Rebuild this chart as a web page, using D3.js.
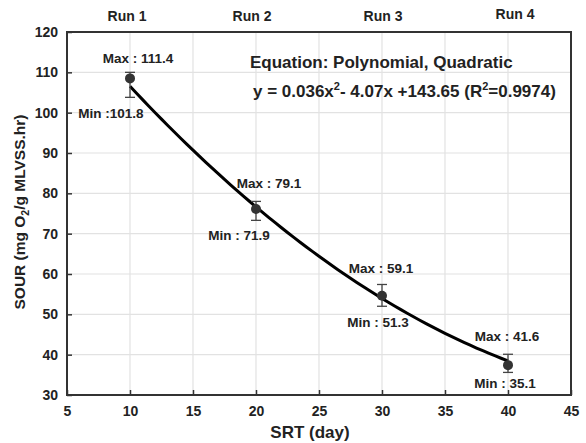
<!DOCTYPE html>
<html>
<head>
<meta charset="utf-8">
<script src="https://cdn.jsdelivr.net/npm/d3@7"></script>
<style>
  body { margin: 0; background: #fff; }
  text { font-family: "Liberation Sans", Arial, sans-serif; font-weight: bold; fill: #222; }
</style>
</head>
<body>
<div id="chart"></div>
<script>
// measured points
const srt = [10, 20, 30, 40]
const sour = [108.5, 76.1, 54.6, 37.4]
const errHigh = [110.0, 78.0, 57.4, 40.1]
const errLow = [103.8, 73.3, 52.0, 35.6]
const maxLabels = ["Max : 111.4", "Max : 79.1", "Max : 59.1", "Max : 41.6"]
const minLabels = ["Min :101.8", "Min : 71.9", "Min : 51.3", "Min : 35.1"]
const runLabels = ["Run 1", "Run 2", "Run 3", "Run 4"]
const xTicks = [5, 10, 15, 20, 25, 30, 35, 40, 45]
const yTicks = [30, 40, 50, 60, 70, 80, 90, 100, 110, 120]
// fitted quadratic as printed on the chart: a x^2 + b x + c
const fitCoef = [0.036, -4.07, 143.65]

const width = 586
const height = 443
const margin = {top: 32, right: 15, bottom: 48, left: 67}

const svg = d3.select("#chart")
    .append("svg")
    .attr("width", width)
    .attr("height", height)

const x = d3.scaleLinear().domain([5, 45]).range([margin.left, width - margin.right])
const y = d3.scaleLinear().domain([30, 120]).range([height - margin.bottom, margin.top])

// grid
svg.append("g")
    .selectAll("line")
    .data(xTicks)
    .enter().append("line")
    .attr("x1", d => x(d)).attr("x2", d => x(d))
    .attr("y1", y(30)).attr("y2", y(120))
    .attr("stroke", "#e2e2e2")
    .attr("stroke-width", 1.2)

svg.append("g")
    .selectAll("line")
    .data(yTicks)
    .enter().append("line")
    .attr("x1", x(5)).attr("x2", x(45))
    .attr("y1", d => y(d)).attr("y2", d => y(d))
    .attr("stroke", "#e2e2e2")
    .attr("stroke-width", 1.2)

// axes with inward ticks
const xAxis = svg.append("g")
    .attr("transform", `translate(0,${y(30)})`)
    .call(d3.axisBottom(x).tickValues(xTicks).tickSizeInner(-5).tickSizeOuter(0).tickPadding(11))
const yAxis = svg.append("g")
    .attr("transform", `translate(${x(5)},0)`)
    .call(d3.axisLeft(y).tickValues(yTicks).tickSizeInner(-5).tickSizeOuter(0).tickPadding(9))

for (const ax of [xAxis, yAxis]) {
    ax.select(".domain").remove()
    ax.selectAll(".tick line").attr("stroke", "#333").attr("stroke-width", 1.5)
    ax.selectAll(".tick text")
        .style("font-family", "'Liberation Sans', Arial, sans-serif")
        .style("font-weight", "bold")
        .style("font-size", "14px")
        .attr("fill", "#222")
}

// frame
svg.append("rect")
    .attr("x", x(5)).attr("y", y(120))
    .attr("width", x(45) - x(5)).attr("height", y(30) - y(120))
    .attr("fill", "none")
    .attr("stroke", "#333")
    .attr("stroke-width", 2)

// fit curve
const fitX = d3.range(10, 40.01, 0.5)
const line = d3.line()
    .x(d => x(d))
    .y(d => y(fitCoef[0] * d * d + fitCoef[1] * d + fitCoef[2]))
svg.append("path")
    .datum(fitX)
    .attr("d", line)
    .attr("fill", "none")
    .attr("stroke", "#000")
    .attr("stroke-width", 3)

// error bars
const bars = svg.append("g").attr("stroke", "#444").attr("stroke-width", 1.3)
srt.forEach((d, i) => {
    bars.append("line")
        .attr("x1", x(d)).attr("x2", x(d))
        .attr("y1", y(errHigh[i])).attr("y2", y(errLow[i]))
    for (const v of [errHigh[i], errLow[i]]) {
        bars.append("line")
            .attr("x1", x(d) - 5).attr("x2", x(d) + 5)
            .attr("y1", y(v)).attr("y2", y(v))
    }
})

// points
svg.append("g")
    .selectAll("circle")
    .data(srt)
    .enter().append("circle")
    .attr("cx", d => x(d))
    .attr("cy", (d, i) => y(sour[i]))
    .attr("r", 5)
    .attr("fill", "#333")

// max/min labels (offsets from each point)
const maxOff = [[8, -15], [13, -21], [-1, -23], [-1, -24]]
const minOff = [[-19, 40], [-17, 31], [-4, 31], [-3, 23]]
srt.forEach((d, i) => {
    svg.append("text")
        .attr("x", x(d) + maxOff[i][0])
        .attr("y", y(sour[i]) + maxOff[i][1])
        .attr("text-anchor", "middle")
        .style("font-size", "13.5px")
        .text(maxLabels[i])
    svg.append("text")
        .attr("x", x(d) + minOff[i][0])
        .attr("y", y(sour[i]) + minOff[i][1])
        .attr("text-anchor", "middle")
        .style("font-size", "13.5px")
        .text(minLabels[i])
})

// run labels on top
const runOff = [[-3, 21], [-4, 21], [1, 21], [7, 19]]
srt.forEach((d, i) => {
    svg.append("text")
        .attr("x", x(d) + runOff[i][0])
        .attr("y", runOff[i][1])
        .attr("text-anchor", "middle")
        .style("font-size", "14px")
        .text(runLabels[i])
})

// equation
svg.append("text")
    .attr("x", 250).attr("y", 68)
    .style("font-size", "17px")
    .text("Equation: Polynomial, Quadratic")
const eq = svg.append("text")
    .attr("x", 253).attr("y", 97)
    .style("font-size", "17px")
eq.append("tspan").text("y = 0.036x")
eq.append("tspan").attr("dy", -7).style("font-size", "11px").text("2")
eq.append("tspan").attr("dy", 7).text("- 4.07x +143.65 (R")
eq.append("tspan").attr("dy", -7).style("font-size", "11px").text("2")
eq.append("tspan").attr("dy", 7).text("=0.9974)")

// axis titles
svg.append("text")
    .attr("x", 310).attr("y", 438)
    .attr("text-anchor", "middle")
    .style("font-size", "17px")
    .text("SRT (day)")

const yt = svg.append("text")
    .attr("transform", "translate(25,212) rotate(-90)")
    .attr("text-anchor", "middle")
    .style("font-size", "15.5px")
yt.append("tspan").text("SOUR (mg O")
yt.append("tspan").attr("dy", 4).style("font-size", "10.5px").text("2")
yt.append("tspan").attr("dy", -4).text("/g MLVSS.hr)")
</script>
</body>
</html>
